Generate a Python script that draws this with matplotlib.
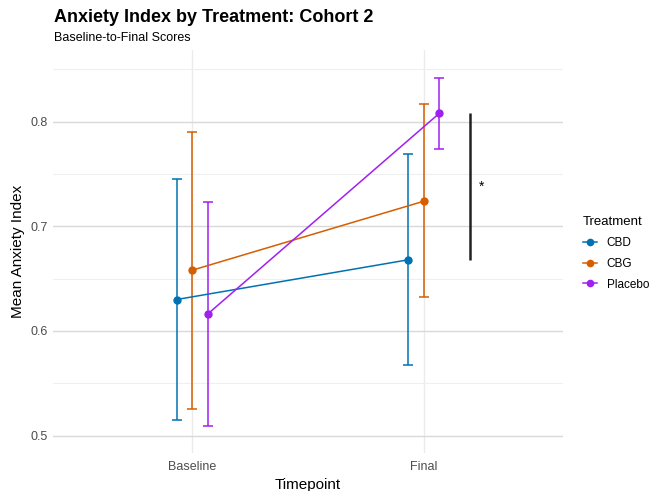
import matplotlib
matplotlib.use("Agg")
import matplotlib.pyplot as plt
from matplotlib.lines import Line2D
from matplotlib.ticker import MultipleLocator
import numpy as np

plt.rcParams["font.family"] = ["Liberation Sans", "DejaVu Sans"]

# Data
timepoints = ["Baseline", "Final"]
treatments = ["CBD", "CBG", "Placebo"]
colors = ["#0072B2", "#D55E00", "#A020F0"]

cbd_mean = [0.630, 0.668]
cbd_low = [0.515, 0.567]
cbd_high = [0.745, 0.769]

cbg_mean = [0.658, 0.724]
cbg_low = [0.525, 0.632]
cbg_high = [0.790, 0.817]

placebo_mean = [0.616, 0.808]
placebo_low = [0.509, 0.774]
placebo_high = [0.723, 0.842]

means = [cbd_mean, cbg_mean, placebo_mean]
lows = [cbd_low, cbg_low, placebo_low]
highs = [cbd_high, cbg_high, placebo_high]

W, H = 651, 491
fig = plt.figure(figsize=(W / 100, H / 100), dpi=100)
ax = fig.add_axes([53 / W, (H - 453) / H, (563 - 53) / W, (453 - 50) / H])

# Grid styling
ax.set_facecolor("white")
for s in ax.spines.values():
    s.set_visible(False)
ax.yaxis.set_major_locator(MultipleLocator(0.1))
ax.yaxis.set_minor_locator(MultipleLocator(0.05))
ax.grid(axis="y", which="major", color="#d9d9d9", linewidth=1.0)
ax.grid(axis="y", which="minor", color="#efefef", linewidth=0.8)
ax.grid(axis="x", which="major", color="#ebebeb", linewidth=1.0)
ax.set_axisbelow(True)
ax.tick_params(axis="both", which="both", length=0)
ax.tick_params(axis="both", labelsize=9, labelcolor="#4d4d4d")
ax.tick_params(axis="x", pad=6)
ax.tick_params(axis="y", pad=4)

x = np.arange(len(timepoints))
dodge = 0.2
offsets = (np.arange(len(treatments)) - 1) * dodge / 3

for i, name in enumerate(treatments):
    xs = x + offsets[i]
    m = np.array(means[i])
    lo = np.array(lows[i])
    hi = np.array(highs[i])
    ax.errorbar(xs, m, yerr=[m - lo, hi - m], fmt="none", ecolor=colors[i],
                elinewidth=1.1, capsize=3.5, capthick=1.1, zorder=2)
    ax.plot(xs, m, color=colors[i], linewidth=1.1, zorder=3)
    ax.plot(xs, m, "o", color=colors[i], markersize=5, zorder=4)

# Significance marker between CBD and Placebo at Final
ax.plot([1.2, 1.2], [cbd_mean[1], placebo_mean[1]], color="#222222",
        linewidth=1.8, solid_capstyle="butt", zorder=3)
ax.text(1.25, (cbd_mean[1] + placebo_mean[1]) / 2, "*", fontsize=10,
        ha="center", va="center", color="black")

ax.set_xlim(-0.6, 1.6)
ax.set_ylim(0.4833, 0.8685)
ax.set_xticks(x)
ax.set_xticklabels(timepoints)
ax.set_yticks([0.5, 0.6, 0.7, 0.8])
ax.set_yticklabels(["0.5", "0.6", "0.7", "0.8"])

ax.set_xlabel("Timepoint", fontsize=11, color="black", labelpad=3)
ax.set_ylabel("Mean Anxiety Index", fontsize=11, color="black", labelpad=4)

fig.text(54 / W, 1 - 17 / H, "Anxiety Index by Treatment: Cohort 2",
         fontsize=13, fontweight="bold", ha="left", va="center")
fig.text(54 / W, 1 - 38 / H, "Baseline-to-Final Scores",
         fontsize=9, ha="left", va="center")

handles = [Line2D([0], [0], color=c, linewidth=1.1, marker="o", markersize=4.5)
           for c in colors]
leg = fig.legend(handles, treatments, title="Treatment", loc="upper left",
                 bbox_to_anchor=(583 / W, 1 - 216 / H), frameon=False,
                 borderpad=0, borderaxespad=0,
                 fontsize=8.5, title_fontsize=9.5, handlelength=1.2,
                 handletextpad=0.8, labelspacing=0.75)
leg._legend_box.align = "left"

fig.savefig("out.png", dpi=100, facecolor="white")
